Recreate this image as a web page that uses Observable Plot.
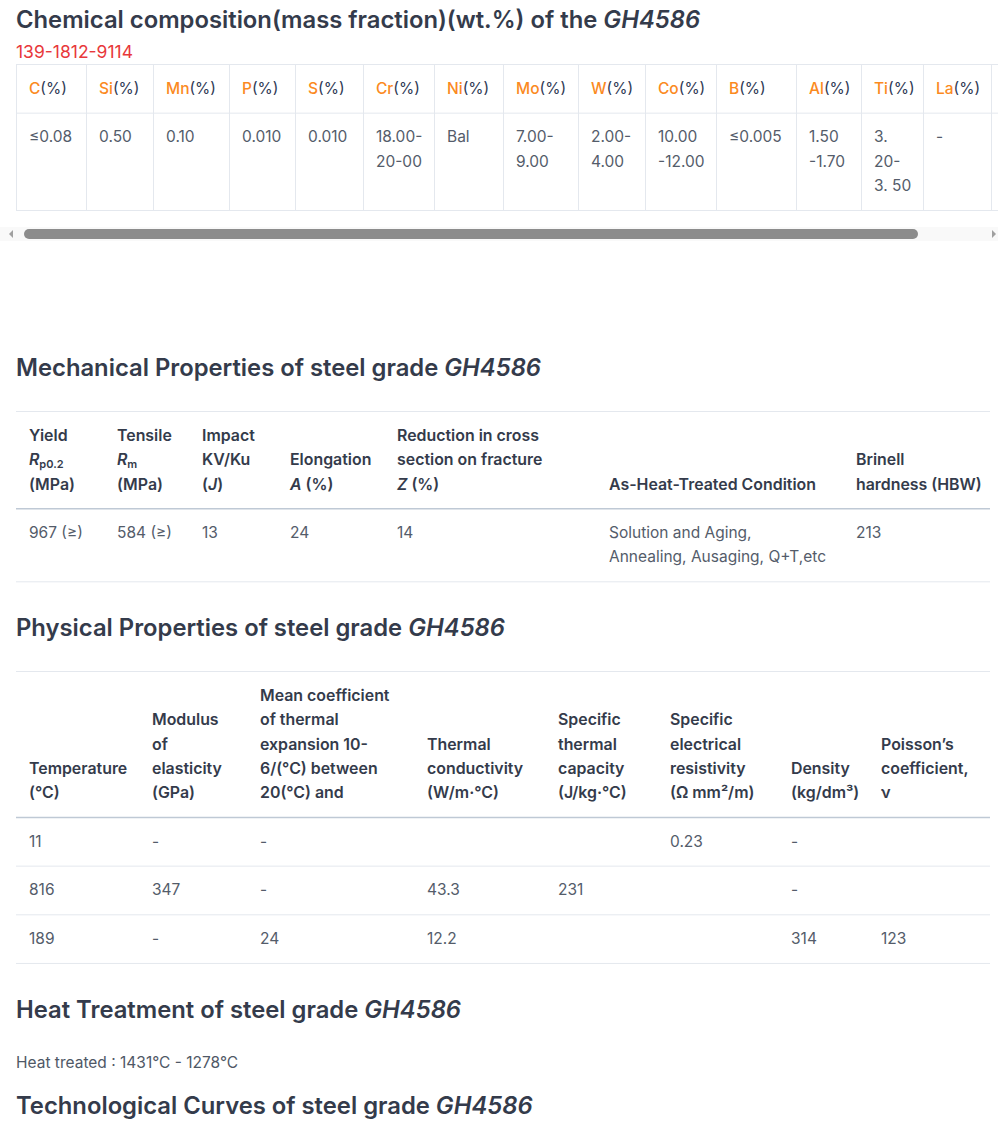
<!DOCTYPE html>
<html><head><meta charset="utf-8"><title>GH4586</title>
<script src="https://cdn.jsdelivr.net/npm/d3@7"></script>
<script src="https://cdn.jsdelivr.net/npm/@observablehq/plot@0.6"></script>
<style>
html,body{margin:0;padding:0;background:#fff}
body{position:relative;width:998px;height:1137px;overflow:hidden;font-family:Inter,"Open Sans",sans-serif;color:#343b4b}
.blk{position:absolute;left:0}
h2{margin:0;padding-left:16px;font-size:23.8px;font-weight:600;height:40px;line-height:40px;white-space:nowrap;color:#343b4b}
h2 em{font-style:italic}
.phone{left:16px;font-size:17.5px;line-height:24px;color:#e8383b}
.tab{width:998px;overflow:hidden}
.tab svg{display:block}
.track{top:227px;height:14px;width:998px;background:#f9f9f9}
.thumb{position:absolute;left:24px;width:894px;top:2px;height:10px;border-radius:5px;background:#8c8c8c}
.arrL{position:absolute;left:9px;top:3px;width:0;height:0;border-top:4px solid transparent;border-bottom:4px solid transparent;border-right:4px solid #a0a0a0}
.arrR{position:absolute;left:992px;top:3px;width:0;height:0;border-top:4px solid transparent;border-bottom:4px solid transparent;border-left:4px solid #a0a0a0}
.note{left:16px;font-size:15.5px;line-height:24px;color:#4f5866}
</style></head><body>
<h2 class="blk" style="top:0">Chemical composition(mass fraction)(wt.%) of the <em>GH4586</em></h2>
<div class="blk phone" style="top:40px">139-1812-9114</div>
<div class="blk tab" id="chem" style="top:63px"></div>
<div class="blk track"><div class="arrL"></div><div class="thumb"></div><div class="arrR"></div></div>
<h2 class="blk" style="top:348px">Mechanical Properties of steel grade <em>GH4586</em></h2>
<div class="blk tab" id="mech" style="top:410px"></div>
<h2 class="blk" style="top:608px">Physical Properties of steel grade <em>GH4586</em></h2>
<div class="blk tab" id="phys" style="top:670px"></div>
<h2 class="blk" style="top:990px">Heat Treatment of steel grade <em>GH4586</em></h2>
<div class="blk note" style="top:1051px">Heat treated : 1431°C - 1278°C</div>
<h2 class="blk" style="top:1086px">Technological Curves of steel grade <em>GH4586</em></h2>
<script>
// ---------------- data ----------------
const chemElements = ["C","Si","Mn","P","S","Cr","Ni","Mo","W","Co","B","Al","Ti","La"];
const chemValues = ["≤0.08","0.50","0.10","0.010","0.010","18.00-\n20-00","Bal","7.00-\n9.00","2.00-\n4.00","10.00\n-12.00","≤0.005","1.50\n-1.70","3.\n20-\n3. 50","-"];

const mechHeaders = [
  ["Yield", [["R","i"],["p0.2","sub"]], "(MPa)"],
  ["Tensile", [["R","i"],["m","sub"]], "(MPa)"],
  ["Impact", "KV/Ku", [["(",null],["J","i"],[")",null]]],
  ["Elongation", [["A","i"],[" (%)",null]]],
  ["Reduction in cross", "section on fracture", [["Z","i"],[" (%)",null]]],
  ["As-Heat-Treated Condition"],
  ["Brinell", "hardness (HBW)"]
];
const mechValues = ["967 (≥)","584 (≥)","13","24","14","Solution and Aging,\nAnnealing, Ausaging, Q+T,etc","213"];

const physHeaders = [
  ["Temperature","(°C)"],
  ["Modulus","of","elasticity","(GPa)"],
  ["Mean coefficient","of thermal","expansion 10-","6/(°C) between","20(°C) and"],
  ["Thermal","conductivity","(W/m·°C)"],
  ["Specific","thermal","capacity","(J/kg·°C)"],
  ["Specific","electrical","resistivity","(Ω mm²/m)"],
  ["Density","(kg/dm³)"],
  ["Poisson’s","coefficient,","ν"]
];
const physRows = [
  ["11","-","-","","","0.23","-",""],
  ["816","347","-","43.3","231","","-",""],
  ["189","-","24","12.2","","","314","123"]
];

// ---------------- layout & styles ----------------
const FONT = "Inter, 'Open Sans', sans-serif";
const UNIT = 24.33;
const PAD = 12.5;
const COLOR = {rule: "#e4e8ee", headRule: "#bfc9d5"};
const STYLE = {
  head: {fill: "#343b4b", fontSize: 15.9, fontWeight: 600, fontStyle: "normal", dy: 0},
  i:    {fill: "#343b4b", fontSize: 15.9, fontWeight: 600, fontStyle: "italic", dy: 0},
  sub:  {fill: "#343b4b", fontSize: 11, fontWeight: 600, fontStyle: "normal", dy: 4},
  body: {fill: "#545c6a", fontSize: 15.5, fontWeight: 400, fontStyle: "normal", dy: 0},
  el:   {fill: "#fb8a1e", fontSize: 15.5, fontWeight: 500, fontStyle: "normal", dy: 0},
  pct:  {fill: "#2f3a55", fontSize: 15.5, fontWeight: 400, fontStyle: "normal", dy: 0}
};
const LAYOUT = {
  chem: {bounds: [16,86,153,229,295,363,434,503,578,645,716,796,861,923,991,1070], vlines: true, headRule: COLOR.rule},
  mech: {bounds: [16,104,189,277,384,596,843,990], vlines: false, headRule: COLOR.headRule},
  phys: {bounds: [16,139,247,414,545,657,778,868,990], vlines: false, headRule: COLOR.headRule}
};

// ---------------- rendering ----------------
const ctx = document.createElement("canvas").getContext("2d");
function measure(t, st) {
  ctx.font = `${st.fontStyle} ${st.fontWeight} ${st.fontSize}px ${FONT}`;
  return ctx.measureText(t).width;
}
function segs(line) { return typeof line === "string" ? [[line, null]] : line; }

function drawTable(target, lay, header, rows, headStyle) {
  const {bounds} = lay;
  const nHeader = d3.max(header, c => c.length);
  const items = [];
  header.forEach((cell, ci) => {
    cell.forEach((line, k) => {
      let off = 0;
      segs(line).forEach(([t, tag]) => {
        const sn = tag || headStyle;
        items.push({x: ci, y: nHeader - cell.length + 1 + k, t, sn, off});
        off += measure(t, STYLE[sn]);
      });
    });
  });
  const rules = [{at: 0, c: COLOR.rule, w: 1}, {at: nHeader + 1, c: lay.headRule, w: lay.headRule === COLOR.rule ? 1 : 1.5}];
  let s = nHeader + 2;
  rows.forEach(row => {
    const lines = row.map(v => v.split("\n"));
    const L = d3.max(lines, l => l.length);
    lines.forEach((ls, ci) => ls.forEach((t, k) => { if (t) items.push({x: ci, y: s + k, t, sn: "body", off: 0}); }));
    rules.push({at: s + L, c: COLOR.rule, w: 1});
    s += L + 1;
  });
  const N = s - 1;
  const last = bounds.length - 1;
  const marks = [];
  if (lay.vlines) {
    marks.push(Plot.ruleX(d3.range(bounds.length), {x: d => d, y1: () => 0, y2: () => N, stroke: COLOR.rule, strokeWidth: 1}));
  }
  for (const [key, rs] of d3.groups(rules, r => r.c + "|" + r.w)) {
    marks.push(Plot.ruleY(rs, {y: "at", x1: () => 0, x2: () => last, stroke: rs[0].c, strokeWidth: rs[0].w}));
  }
  for (const [key, g] of d3.groups(items, d => d.sn + "|" + d.off)) {
    const st = STYLE[g[0].sn];
    marks.push(Plot.text(g, {
      x: "x", y: "y", text: "t", textAnchor: "start",
      dx: PAD + g[0].off, dy: st.dy, fill: st.fill,
      fontSize: st.fontSize, fontWeight: st.fontWeight, fontStyle: st.fontStyle, fontFamily: FONT
    }));
  }
  const chart = Plot.plot({
    width: 998, height: Math.round(N * UNIT + 3),
    margin: 0,
    x: {type: "linear", domain: d3.range(bounds.length), range: bounds, axis: null},
    y: {type: "linear", domain: [0, N], range: [1, 1 + N * UNIT], axis: null},
    style: {fontFamily: FONT, background: "transparent", overflow: "hidden"},
    marks
  });
  document.getElementById(target).appendChild(chart);
}

const chemHeader = chemElements.map(e => [[[e, "el"], ["(%)", "pct"]]]);
drawTable("chem", LAYOUT.chem, chemHeader, [chemValues], "head");
drawTable("mech", LAYOUT.mech, mechHeaders, [mechValues], "head");
drawTable("phys", LAYOUT.phys, physHeaders, physRows, "head");
</script>
</body></html>
